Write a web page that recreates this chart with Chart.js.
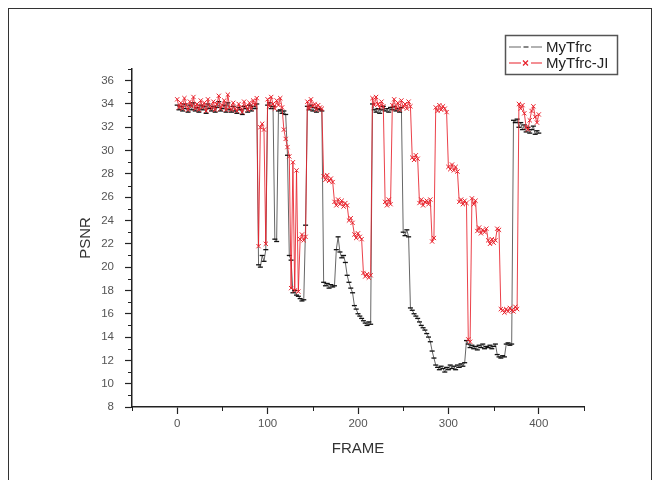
<!DOCTYPE html>
<html>
<head>
<meta charset="utf-8">
<title>PSNR per frame</title>
<script src="https://cdn.jsdelivr.net/npm/chart.js@4.4.0/dist/chart.umd.min.js"></script>
<style>
  html, body { margin: 0; padding: 0; background: #fff; }
  #wrap { position: relative; width: 655px; height: 480px; }
  #frame { position: absolute; left: 8px; top: 8px; width: 644px; height: 480px; border: 1px solid #333; border-bottom: none; box-sizing: border-box; pointer-events: none; }
</style>
</head>
<body>
<div id="wrap">
  <canvas id="psnrChart"></canvas>
  <div id="frame"></div>
</div>
<script>
// frame index, every 2nd frame
const FRAMES = Array.from({ length: 201 }, (_, i) => i * 2);

const PSNR_MYTFRC = [
    33.9, 33.5, 33.8, 33.4, 34.0, 33.6, 33.3, 33.9, 33.5, 34.1,
    33.4, 33.7, 33.3, 33.9, 33.5, 33.8, 33.2, 34.0, 33.6, 33.4,
    33.8, 33.3, 33.7, 34.2, 33.4, 33.6, 33.9, 33.3, 34.1, 33.5,
    33.3, 33.8, 33.4, 33.2, 33.7, 33.5, 33.1, 33.8, 33.6, 33.3,
    33.9, 33.4, 33.8, 33.6, 34.0, 20.2, 20.0, 21.0, 20.5, 21.5,
    33.9, 34.1, 33.6, 33.8, 22.4, 22.2, 33.4, 33.5, 33.2, 33.4,
    33.1, 29.6, 21.0, 20.6, 17.8, 18.0, 17.6, 17.5, 17.3, 17.1,
    17.2, 23.6, 33.8, 33.5, 33.9, 33.4, 33.7, 33.3, 33.6, 33.5,
    33.4, 18.7, 18.4, 18.6, 18.2, 18.5, 18.3, 18.4, 21.5, 22.6,
    21.3, 20.8, 21.0, 20.4, 19.3, 18.7, 18.2, 17.8, 16.7, 16.4,
    16.0, 15.8, 15.6, 15.4, 15.2, 15.0, 15.3, 15.1, 34.0, 33.5,
    33.3, 33.6, 33.2, 33.5, 33.8, 33.4, 33.6, 33.3, 33.7, 33.5,
    33.8, 33.4, 33.6, 33.3, 33.7, 23.0, 22.7, 23.2, 22.6, 16.5,
    16.3, 16.0, 15.8, 15.6, 15.3, 15.0, 14.8, 14.6, 14.3, 14.0,
    13.6, 12.8, 12.2, 11.6, 11.4, 11.2, 11.5, 11.3, 11.0, 11.4,
    11.2, 11.6, 11.3, 11.5, 11.2, 11.6, 11.4, 11.7, 11.5, 11.8,
    13.7, 13.4, 13.1, 13.3, 13.0, 13.2, 12.9, 13.3, 13.1, 13.4,
    13.0, 13.2, 13.1, 13.3, 13.0, 13.2, 13.4, 12.5, 12.3, 12.2,
    12.4, 12.3, 13.4, 13.5, 13.3, 13.4, 32.6, 32.4, 32.7, 32.0,
    32.4, 31.8, 32.2, 31.6, 32.0, 31.5, 31.8, 32.1, 31.4, 31.7,
    31.5
];

const PSNR_MYTFRC_JI = [
    34.4, 33.7, 34.1, 33.6, 34.5, 33.9, 33.5, 34.2, 33.8, 34.6,
    33.6, 34.0, 33.5, 34.3, 33.7, 34.1, 33.4, 34.4, 33.8, 33.6,
    34.2, 33.5, 34.0, 34.7, 33.6, 33.9, 34.3, 33.5, 34.8, 33.7,
    33.5, 34.1, 33.6, 33.4, 34.0, 33.7, 33.3, 34.2, 33.8, 33.5,
    34.1, 33.6, 34.3, 33.9, 34.5, 21.8, 32.0, 32.3, 31.8, 22.0,
    34.4, 33.8, 34.6, 34.0, 33.6, 34.3, 33.9, 34.5, 33.7, 31.8,
    31.0, 30.3, 29.5, 18.2, 29.0, 18.0, 28.3, 17.9, 22.4, 22.8,
    22.3, 22.6, 34.2, 33.6, 34.4, 33.8, 34.0, 33.5, 33.9, 33.7,
    33.6, 27.8, 27.5, 27.9, 27.4, 27.6, 27.3, 25.6, 25.3, 25.8,
    25.4, 25.7, 25.2, 25.5, 25.3, 24.0, 24.2, 23.8, 22.8, 22.5,
    22.9, 22.6, 22.4, 19.5, 19.2, 19.4, 19.1, 19.3, 34.5, 33.9,
    34.6, 34.0, 33.7, 34.2, 33.8, 25.6, 25.3, 25.8, 25.4, 33.9,
    34.4, 33.6, 34.1, 33.5, 34.3, 33.7, 34.0, 33.6, 34.2, 33.8,
    29.4, 29.2, 29.6, 29.3, 25.5, 25.8, 25.3, 25.6, 25.7, 25.4,
    25.8, 22.2, 22.5, 33.7, 33.4, 33.9, 33.5, 33.8, 33.6, 33.3,
    28.6, 28.4, 28.8, 28.3, 28.6, 28.2, 25.6, 25.8, 25.4, 25.7,
    25.5, 13.8, 13.6, 25.9, 25.4, 25.7, 23.1, 23.4, 22.9, 23.2,
    23.0, 23.3, 22.3, 22.0, 22.4, 22.1, 22.3, 23.3, 23.2, 16.4,
    16.3, 16.1, 16.4, 16.2, 16.5, 16.3, 16.2, 16.6, 16.4, 34.0,
    33.6, 33.9, 33.2, 32.0, 31.8, 32.6, 33.4, 33.8, 32.9, 32.4,
    33.1
];

const X_TICKS = [0, 100, 200, 300, 400];
const X_MINOR = [-50, 50, 150, 250, 350, 450];
const Y_TICKS = [8, 10, 12, 14, 16, 18, 20, 22, 24, 26, 28, 30, 32, 34, 36];
const Y_MINOR = [9, 11, 13, 15, 17, 19, 21, 23, 25, 27, 29, 31, 33, 35, 37];

const AXIS_COLOR = '#222';
const TICK_FONT = { family: '"Liberation Sans", Arial, sans-serif', size: 11.5 };
const TITLE_FONT = { family: '"Liberation Sans", Arial, sans-serif', size: 15 };

const toPoints = (ys) => FRAMES.map((f, i) => ({ x: f, y: ys[i] }));

// short minor ticks between the labelled ones
const minorTicks = {
    id: 'minorTicks',
    afterDraw(chart) {
        const { ctx, scales: { x, y } } = chart;
        ctx.save();
        ctx.strokeStyle = AXIS_COLOR;
        ctx.lineWidth = 1;
        ctx.beginPath();
        X_MINOR.forEach(v => {
            const px = Math.round(x.getPixelForValue(v)) + 0.5;
            ctx.moveTo(px, x.top);
            ctx.lineTo(px, x.top + 4);
        });
        Y_MINOR.forEach(v => {
            const py = Math.round(y.getPixelForValue(v)) + 0.5;
            ctx.moveTo(y.right, py);
            ctx.lineTo(y.right - 4, py);
        });
        ctx.stroke();
        ctx.restore();
    }
};

// boxed legend in the top right corner
const boxLegend = {
    id: 'boxLegend',
    afterDraw(chart) {
        const { ctx } = chart;
        const left = 505, top = 35, w = 112, h = 39;
        ctx.save();
        ctx.strokeStyle = '#555';
        ctx.lineWidth = 1.5;
        ctx.strokeRect(left + 0.5, top + 0.5, w, h);

        const rows = [
            { label: 'MyTfrc', y: 47, color: '#666', dash: true },
            { label: 'MyTfrc-JI', y: 63, color: '#e8202a', dash: false }
        ];
        rows.forEach(r => {
            ctx.strokeStyle = r.color;
            ctx.lineWidth = 1.2;
            ctx.beginPath();
            ctx.moveTo(509, r.y); ctx.lineTo(521, r.y);
            ctx.moveTo(531, r.y); ctx.lineTo(542, r.y);
            ctx.stroke();
            ctx.beginPath();
            if (r.dash) {
                ctx.strokeStyle = '#333';
                ctx.moveTo(523.5, r.y); ctx.lineTo(528.5, r.y);
            } else {
                ctx.moveTo(523, r.y - 2.5); ctx.lineTo(528, r.y + 2.5);
                ctx.moveTo(528, r.y - 2.5); ctx.lineTo(523, r.y + 2.5);
            }
            ctx.stroke();
            ctx.fillStyle = '#222';
            ctx.font = '15px "Liberation Sans", Arial, sans-serif';
            ctx.textBaseline = 'middle';
            ctx.fillText(r.label, 546, r.y + 1);
        });
        ctx.restore();
    }
};

new Chart(document.getElementById('psnrChart'), {
    type: 'line',
    data: {
        datasets: [
            {
                label: 'MyTfrc',
                data: toPoints(PSNR_MYTFRC),
                borderColor: '#666',
                borderWidth: 1,
                pointStyle: 'line',
                pointRadius: 2.5,
                pointBorderColor: '#111',
                pointBorderWidth: 1.3,
                order: 2
            },
            {
                label: 'MyTfrc-JI',
                data: toPoints(PSNR_MYTFRC_JI),
                borderColor: 'rgba(232, 32, 42, 0.85)',
                borderWidth: 1,
                pointStyle: 'crossRot',
                pointRadius: 3,
                pointBorderColor: '#e8202a',
                pointBorderWidth: 1,
                order: 1
            }
        ]
    },
    options: {
        responsive: true,
        maintainAspectRatio: false,
        animation: false,
        layout: { padding: { left: 72, top: 69, right: 71, bottom: 18 } },
        plugins: { legend: { display: false }, tooltip: { enabled: false } },
        elements: { line: { tension: 0 } },
        scales: {
            x: {
                type: 'linear',
                min: -50, max: 450,
                afterFit: (s) => { s.height = 55; },
                afterBuildTicks: (s) => { s.ticks = X_TICKS.map(v => ({ value: v })); },
                border: { display: true, color: AXIS_COLOR, width: 1.5 },
                grid: { drawOnChartArea: false, drawTicks: true, tickLength: 7, tickColor: AXIS_COLOR, tickWidth: 1.2 },
                ticks: { color: '#555', font: TICK_FONT, padding: 3, maxRotation: 0 },
                title: { display: true, text: 'FRAME', color: '#333', font: TITLE_FONT, padding: { bottom: 4 } }
            },
            y: {
                type: 'linear',
                min: 8, max: 37,
                afterFit: (s) => { s.width = 60; },
                afterBuildTicks: (s) => { s.ticks = Y_TICKS.map(v => ({ value: v })); },
                border: { display: true, color: AXIS_COLOR, width: 1.5 },
                grid: { drawOnChartArea: false, drawTicks: true, tickLength: 7, tickColor: AXIS_COLOR, tickWidth: 1.2 },
                ticks: { color: '#555', font: TICK_FONT, padding: 11 },
                title: { display: true, text: 'PSNR', color: '#333', font: TITLE_FONT, padding: { top: 5 } }
            }
        }
    },
    plugins: [minorTicks, boxLegend]
});
</script>
</body>
</html>
